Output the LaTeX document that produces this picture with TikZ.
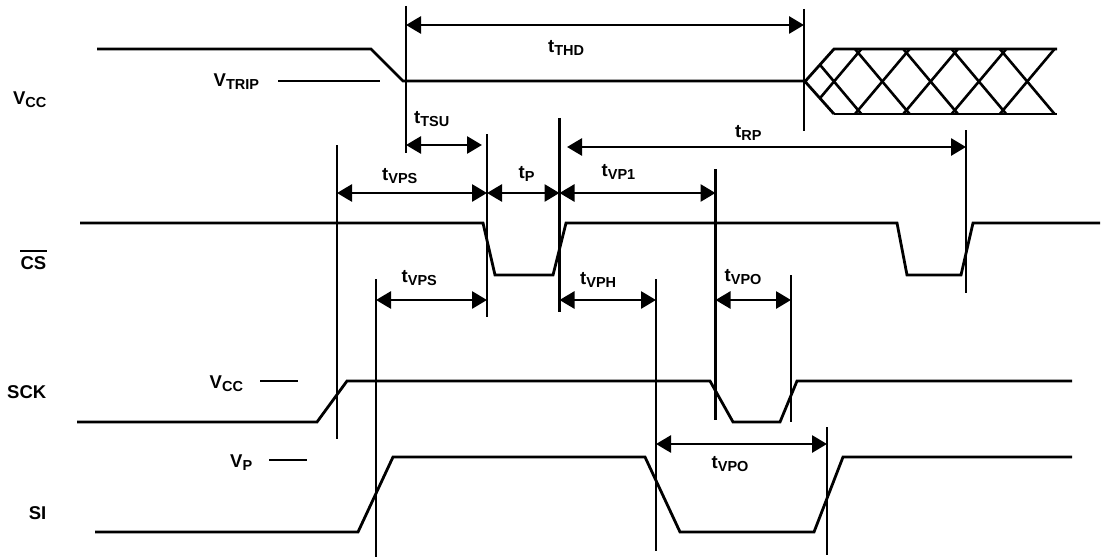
\documentclass[tikz,border=0pt]{standalone}
\usepackage{fontspec}
\setmainfont{Liberation Sans}
\usetikzlibrary{arrows.meta}
\newcommand{\sigl}[2]{\bfseries\fontsize{18.5}{18.5}\selectfont #1\raisebox{-3pt}{\fontsize{14.5}{14.5}\selectfont #2}}
\begin{document}
\begin{tikzpicture}[x=1pt,y=-1pt,
  wave/.style={line width=2.8pt,line join=miter},
  vbar/.style={line width=2.9pt},
  dim/.style={line width=2.8pt,{Triangle[length=15pt,width=17pt]}-{Triangle[length=15pt,width=17pt]}},
  lbl/.style={inner sep=0pt,anchor=base west},
  sig/.style={inner sep=0pt,anchor=base east},
  lev/.style={line width=2.8pt}]
\useasboundingbox (0,0) rectangle (1102,559);

% ---------- vertical timing markers ----------
\coordinate (a1) at (406,6);   \coordinate (a2) at (406,153);
\coordinate (b1) at (804,9);   \coordinate (b2) at (804,131);
\coordinate (c1) at (487,134); \coordinate (c2) at (487,317);
\coordinate (d1) at (337,145); \coordinate (d2) at (337,439);
\coordinate (e1) at (559.5,118); \coordinate (e2) at (559.5,312);
\coordinate (f1) at (715.5,169); \coordinate (f2) at (715.5,420);
\coordinate (g1) at (966,130); \coordinate (g2) at (966,293);
\coordinate (h1) at (376,279); \coordinate (h2) at (376,557);
\coordinate (i1) at (656,279); \coordinate (i2) at (656,551);
\coordinate (j1) at (791,275); \coordinate (j2) at (791,422);
\coordinate (k1) at (827,427); \coordinate (k2) at (827,555);
\foreach \p in {a,b,c,d,e,f,g,h,i,j,k} \draw[vbar] (\p1) -- (\p2);

% ---------- VCC waveform ----------
\draw[wave] (97,49) -- (371,49) -- (403,81) -- (805,81);
\begin{scope}
  \clip (805,81.5) -- (834,49) -- (1057,49) -- (1057,114) -- (834,114) -- cycle;
  \foreach \m in {834,882.3,930.6,978.9,1027.2} {
    \draw[line width=2.6pt] (\m-50.5,21.5) -- (\m+50.5,141.5);
    \draw[line width=2.6pt] (\m-50.5,141.5) -- (\m+50.5,21.5);
  }
\end{scope}
\draw[wave] (834,114) -- (805,81.5) -- (834,49) -- (1057,49);
\draw[wave] (834,114) -- (1057,114);
\draw[lev] (278,81) -- (380,81);

% ---------- CS waveform ----------
\draw[wave] (80,223) -- (483,223) -- (495,275) -- (553,275) -- (566,223) -- (897,223)
  -- (907,275) -- (961,275) -- (973,223) -- (1100,223);

% ---------- SCK waveform ----------
\draw[wave] (77,422) -- (317,422) -- (347,381) -- (710,381) -- (733,422) -- (780,422)
  -- (797,381) -- (1072,381);
\draw[lev] (260,381) -- (298,381);

% ---------- SI waveform ----------
\draw[wave] (95,532) -- (358,532) -- (393,457) -- (645,457) -- (680,532) -- (814,532)
  -- (843,457) -- (1072,457);
\draw[lev] (269,460) -- (307,460);

% ---------- dimension arrows ----------
\coordinate (tthdL) at (406,25);  \coordinate (tthdR) at (804,25);
\coordinate (ttsuL) at (406,145); \coordinate (ttsuR) at (482,145);
\coordinate (trpL) at (567,147);  \coordinate (trpR) at (966,147);
\coordinate (vpsL) at (337,193);  \coordinate (vpsR) at (487,193);
\coordinate (tpR) at (559.5,193); \coordinate (vp1R) at (715.5,193);
\coordinate (vps2L) at (376,300); \coordinate (vps2R) at (487,300);
\coordinate (vphL) at (559.5,300); \coordinate (vphR) at (656,300);
\coordinate (vpoL) at (715.5,300); \coordinate (vpoR) at (791,300);
\coordinate (vpo2L) at (656,444); \coordinate (vpo2R) at (827,444);
\draw[dim] (tthdL) -- (tthdR);
\draw[dim] (ttsuL) -- (ttsuR);
\draw[dim] (trpL) -- (trpR);
\draw[dim] (vpsL) -- (vpsR);
\draw[dim] (vpsR) -- (tpR);
\draw[dim] (tpR) -- (vp1R);
\draw[dim] (vps2L) -- (vps2R);
\draw[dim] (vphL) -- (vphR);
\draw[dim] (vpoL) -- (vpoR);
\draw[dim] (vpo2L) -- (vpo2R);

% ---------- labels ----------
\node[lbl] (lthd) at (548,52.5) {\sigl{t}{THD}};
\node[lbl] (ltsu) at (414,123.5) {\sigl{t}{TSU}};
\node[lbl] (lrp) at (735,137.5) {\sigl{t}{RP}};
\node[lbl] (lvps) at (382,180.5) {\sigl{t}{VPS}};
\node[lbl] (lp) at (518.5,178.5) {\sigl{t}{P}};
\node[lbl] (lvp1) at (601.5,176.5) {\sigl{t}{VP1}};
\node[lbl] (lvps2) at (401.5,282) {\sigl{t}{VPS}};
\node[lbl] (lvph) at (580,284) {\sigl{t}{VPH}};
\node[lbl] (lvpo) at (724.5,281) {\sigl{t}{VPO}};
\node[lbl] (lvpo2) at (711.5,468.5) {\sigl{t}{VPO}};
\node[lbl] (ltrip) at (213.5,87) {\sigl{V}{TRIP}};
\node[lbl] (lvccs) at (209.5,388.5) {\sigl{V}{CC}};
\node[lbl] (lvp) at (230,467.5) {\sigl{V}{P}};

\node[sig] (nvcc) at (46.5,105) {\sigl{V}{CC}};
\node[sig] (ncs) at (46.5,269.5) {\sigl{CS}{}};
\draw[line width=2.2pt] ([yshift=5.5pt]ncs.north west) -- ([yshift=5.5pt]ncs.north east);
\node[sig] (nsck) at (46.5,398.5) {\sigl{SCK}{}};
\node[sig] (nsi) at (46.5,519.5) {\sigl{SI}{}};
\end{tikzpicture}
\end{document}
